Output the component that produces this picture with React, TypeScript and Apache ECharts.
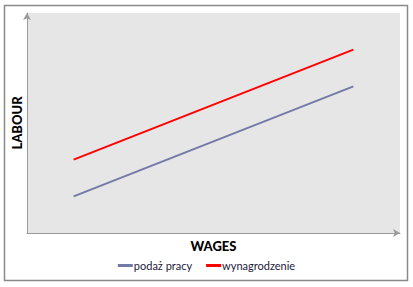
import React, { useEffect, useRef } from "react";
import * as echarts from "echarts";

const seriesNames = ["podaż pracy", "wynagrodzenie"];
const wagesX = [1, 7];
const labourSupply = [1, 4];
const wageLine = [2, 5];

export default function App() {
  const ref = useRef<HTMLDivElement>(null);
  useEffect(() => {
    const chart = echarts.init(ref.current!, null, { renderer: "svg" });
    const font = "Lato, 'Open Sans', sans-serif";
    chart.setOption({
      animation: false,
      backgroundColor: "#ffffff",
      graphic: [
        {
          type: "rect",
          shape: { x: 4.5, y: 5.5, width: 403, height: 275 },
          style: { fill: "none", stroke: "#8a8a8a", lineWidth: 1.5 },
          z: -1,
        },
      ],
      grid: {
        left: 27,
        right: 13,
        top: 13,
        bottom: 54,
        show: true,
        backgroundColor: "#e6e6e6",
        borderWidth: 0,
      },
      legend: {
        data: seriesNames,
        bottom: 11,
        left: "center",
        icon: "rect",
        itemWidth: 15,
        itemHeight: 3,
        itemGap: 14,
        textStyle: { fontFamily: font, fontSize: 11, color: "#1a1a3a", padding: [0, 0, 0, -4] },
      },
      xAxis: {
        type: "value",
        min: 0,
        max: 8,
        name: "WAGES",
        nameLocation: "middle",
        nameGap: 6,
        nameTextStyle: { fontFamily: font, fontWeight: 900, fontSize: 13, color: "#000", verticalAlign: "top" },
        axisLine: { show: true, symbol: ["none", "arrow"], symbolSize: [6, 7], lineStyle: { color: "#999", width: 1 } },
        axisTick: { show: false },
        axisLabel: { show: false },
        splitLine: { show: false },
      },
      yAxis: {
        type: "value",
        min: 0,
        max: 6,
        name: "LABOUR",
        nameLocation: "middle",
        nameGap: 4,
        nameTextStyle: { fontFamily: font, fontWeight: 900, fontSize: 13, color: "#000", verticalAlign: "bottom" },
        axisLine: { show: true, symbol: ["none", "arrow"], symbolSize: [6, 7], lineStyle: { color: "#999", width: 1 } },
        axisTick: { show: false },
        axisLabel: { show: false },
        splitLine: { show: false },
      },
      series: [
        {
          name: seriesNames[0],
          type: "line",
          data: wagesX.map((x, i) => [x, labourSupply[i]]),
          showSymbol: false,
          symbol: "none",
          lineStyle: { color: "#7579a8", width: 2 },
          itemStyle: { color: "#7579a8" },
        },
        {
          name: seriesNames[1],
          type: "line",
          data: wagesX.map((x, i) => [x, wageLine[i]]),
          showSymbol: false,
          symbol: "none",
          lineStyle: { color: "#ff0000", width: 2 },
          itemStyle: { color: "#ff0000" },
        },
      ],
    });
    return () => chart.dispose();
  }, []);
  return (
    <div
      ref={ref}
      style={{ position: "fixed", left: 0, top: 0, width: 413, height: 287 }}
    />
  );
}
